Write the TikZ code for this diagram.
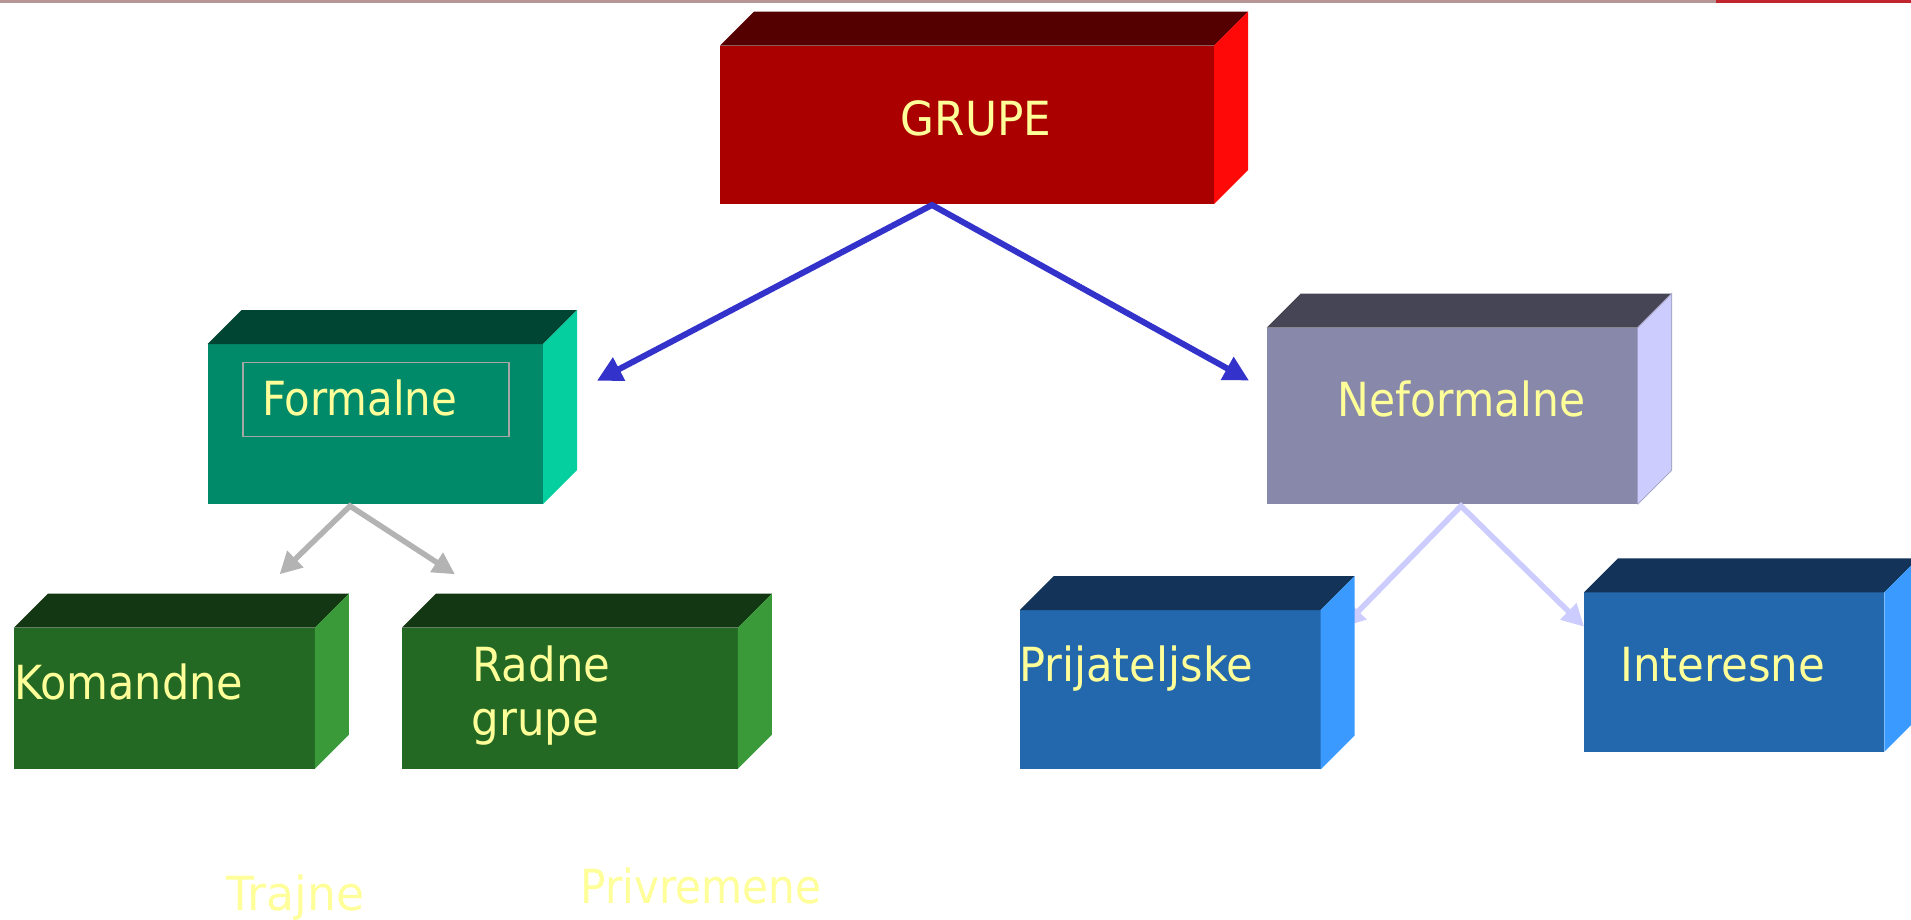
\documentclass[tikz,border=0pt]{standalone}
\usepackage{fontspec}
\setmainfont{DejaVu Sans}
\usepackage{graphicx}
\usetikzlibrary{arrows.meta}
\definecolor{txt}{HTML}{FFFF99}
\definecolor{grF}{HTML}{AA0000}\definecolor{grT}{HTML}{550000}\definecolor{grS}{HTML}{FF0808}
\definecolor{foF}{HTML}{008A6A}\definecolor{foT}{HTML}{004533}\definecolor{foS}{HTML}{05CF9E}
\definecolor{neF}{HTML}{8888AA}\definecolor{neT}{HTML}{464556}\definecolor{neS}{HTML}{CCCCFF}
\definecolor{gnF}{HTML}{236823}\definecolor{gnT}{HTML}{133713}\definecolor{gnS}{HTML}{3A9A3A}
\definecolor{blF}{HTML}{2367AC}\definecolor{blT}{HTML}{133458}\definecolor{blS}{HTML}{3A9AFF}
\definecolor{arrB}{HTML}{3333CC}\definecolor{arrG}{HTML}{B3B3B3}\definecolor{arrL}{HTML}{CCCCFF}
\definecolor{ruleA}{HTML}{B59595}\definecolor{ruleB}{HTML}{C0242C}
\definecolor{frameC}{HTML}{A6A6A6}\definecolor{neEdge}{HTML}{AAAACC}
\newcommand{\fitw}[2]{\resizebox{#1pt}{\height}{#2}}
\newcommand{\cubefaces}[3]{%
  \fill[#2] (#1.north west) -- ++(34,-34) -- ([shift={(34,-34)}]#1.north east) -- (#1.north east) -- cycle;
  \fill[#3] (#1.north east) -- ++(34,-34) -- ([shift={(34,-34)}]#1.south east) -- (#1.south east) -- cycle;}
\tikzset{
  face/.style={inner sep=0pt, outer sep=0pt, draw=none},
  lbl/.style={text=txt, inner sep=0pt, anchor=base west, font=\fontsize{47pt}{56pt}\selectfont},
  bluearr/.style={draw=arrB, line width=6pt, line join=miter, {Triangle[length=25pt,width=25pt]}-{Triangle[length=25pt,width=25pt]}},
  greyarr/.style={draw=arrG, line width=5.5pt, line join=miter, {Triangle[length=22pt,width=22pt]}-{Triangle[length=22pt,width=22pt]}},
  lavarr/.style={draw=arrL, line width=5.5pt, line join=miter, {Triangle[length=22pt,width=22pt]}-{Triangle[length=22pt,width=22pt]}}
}
\begin{document}
\begin{tikzpicture}[x=1pt,y=-1pt]
\useasboundingbox (0,0) rectangle (1911,919);
\clip (0,0) rectangle (1911,919);
\fill[white] (0,0) rectangle (1911,919);
% top rule
\fill[ruleA] (0,0) rectangle (1716,3);
\fill[ruleB] (1716,0) rectangle (1911,3);

% upper boxes
\node[face, fill=grF, minimum width=494pt, minimum height=158.3pt] (grupe) at (967,124.85) {};
\cubefaces{grupe}{grT}{grS}
\node[face, fill=foF, minimum width=335.3pt, minimum height=160pt] (formal) at (375.35,424) {};
\cubefaces{formal}{foT}{foS}
\node[face, draw=frameC, line width=1.6pt, minimum width=266pt, minimum height=74pt] (frame) at (376,399.5) {};
\node[face, fill=neF, minimum width=371pt, minimum height=176.6pt] (neform) at (1452.2,416) {};
\cubefaces{neform}{neT}{neS}
\draw[neEdge, line width=1pt] (neform.north east) -- ++(34,-34) -- ([shift={(34,-34)}]neform.south east) -- (neform.south east);

% connectors
\coordinate (gsrc) at (932,205);
\coordinate (fsrc) at (350,506);
\coordinate (nsrc) at (1461,506);
\coordinate (tipF) at (597,380.7);
\coordinate (tipN) at (1249,380.5);
\coordinate (tipK) at (279.6,574.3);
\coordinate (tipR) at (455,574.3);
\coordinate (tipP) at (1343,627);
\coordinate (tipI) at (1584,626.7);
\draw[bluearr] (tipF) -- (gsrc) -- (tipN);
\draw[greyarr] (tipK) -- (fsrc) -- (tipR);
\draw[lavarr] (tipP) -- (nsrc) -- (tipI);

% lower boxes
\node[face, fill=gnF, minimum width=301pt, minimum height=141pt] (koman) at (164.3,698.2) {};
\cubefaces{koman}{gnT}{gnS}
\node[face, fill=gnF, minimum width=335.8pt, minimum height=141pt] (radne) at (569.9,698.2) {};
\cubefaces{radne}{gnT}{gnS}
\node[face, fill=blF, minimum width=300.9pt, minimum height=159.3pt] (prijat) at (1170.25,689.65) {};
\cubefaces{prijat}{blT}{blS}
\node[face, fill=blF, minimum width=300.4pt, minimum height=159.4pt] (inter) at (1734.2,672) {};
\cubefaces{inter}{blT}{blS}

% labels
\node[lbl] (tG) at (900.6,135) {\fitw{150.4}{GRUPE}};
\node[lbl] (tF) at (262,415) {\fitw{195}{Formalne}};
\node[lbl] (tN) at (1337.7,416.7) {\fitw{247.3}{Neformalne}};
\node[lbl] (tK) at (13.8,699) {\fitw{229}{Komandne}};
\node[lbl] (tR1) at (472.5,681.7) {\fitw{137.6}{Radne}};
\node[lbl] (tR2) at (471.5,735) {\fitw{127.5}{grupe}};
\node[lbl] (tP) at (1019,681.7) {\fitw{234}{Prijateljske}};
\node[lbl] (tI) at (1620,681.7) {\fitw{205}{Interesne}};
\node[lbl] (tT) at (226,910) {\fitw{138}{Trajne}};
\node[lbl] (tV) at (580.3,903.3) {\fitw{241}{Privremene}};
\end{tikzpicture}
\end{document}
